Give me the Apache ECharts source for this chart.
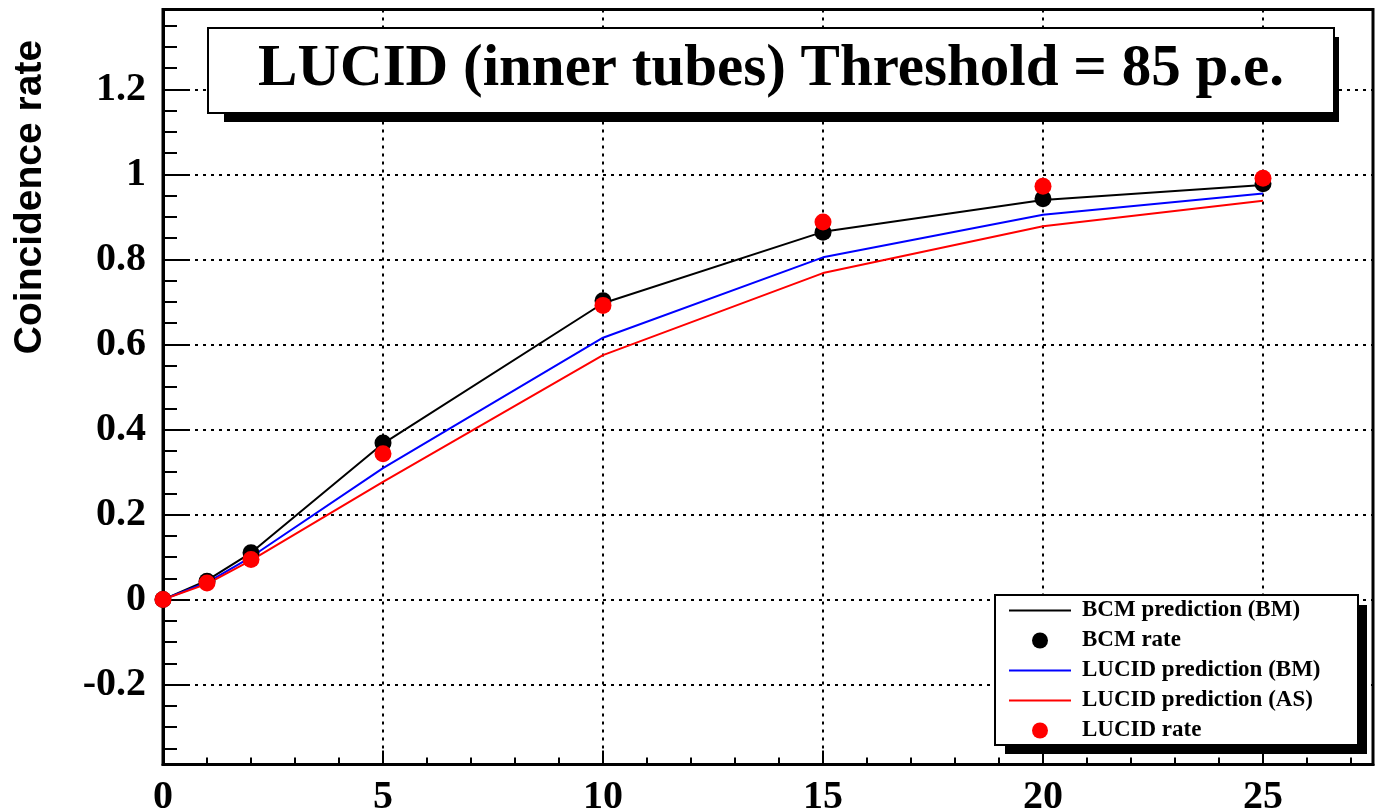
<!DOCTYPE html>
<html>
<head>
<meta charset="utf-8">
<script src="https://cdn.jsdelivr.net/npm/echarts@6/dist/echarts.min.js"></script>
<style>
html,body{margin:0;padding:0;background:#fff;}
#chart{width:1376px;height:812px;}
</style>
</head>
<body>
<div id="chart"></div>
<script>
// ---- data ----
const xValues = [0, 1, 2, 5, 10, 15, 20, 25];
const bcmPredictionBM = [0, 0.045, 0.11, 0.367, 0.697, 0.865, 0.94, 0.975];
const bcmRate = [0, 0.043, 0.11, 0.368, 0.703, 0.864, 0.943, 0.978];
const lucidPredictionBM = [0, 0.04, 0.10, 0.309, 0.616, 0.805, 0.905, 0.955];
const lucidPredictionAS = [0, 0.037, 0.092, 0.277, 0.575, 0.768, 0.878, 0.938];
const lucidRate = [0, 0.039, 0.094, 0.343, 0.692, 0.888, 0.972, 0.991];

const xMajorTicks = [0, 5, 10, 15, 20, 25];
const xMinorTicks = [1,2,3,4,6,7,8,9,11,12,13,14,16,17,18,19,21,22,23,24,26,27];
const yMajorTicks = [-0.2, 0, 0.2, 0.4, 0.6, 0.8, 1, 1.2];
const yMinorTicks = [-0.35,-0.3,-0.25,-0.15,-0.1,-0.05,0.05,0.1,0.15,0.25,0.3,0.35,0.45,0.5,0.55,0.65,0.7,0.75,0.85,0.9,0.95,1.05,1.1,1.15,1.25,1.3,1.35];

const titleText = 'LUCID (inner tubes) Threshold = 85 p.e.';
const yTitle = 'Coincidence rate';
const names = ['BCM prediction (BM)', 'BCM rate', 'LUCID prediction (BM)', 'LUCID prediction (AS)', 'LUCID rate'];

const pairs = arr => xValues.map((x, i) => [x, arr[i]]);

const chart = echarts.init(document.getElementById('chart'), null, {renderer: 'canvas'});

const serif = '"Liberation Serif", "Times New Roman", serif';
const dotted = {color: '#000', width: 2, type: [3, 5]};
const lineIcon = 'path://M0,0H62V2H0Z';

const X_MIN = 0, X_MAX = 27.5, Y_MIN = -0.388, Y_MAX = 1.388;

const option = {
  backgroundColor: '#fff',
  animation: false,
  grid: {
    left: 163, top: 9.5, width: 1210, height: 755,
    outerBoundsMode: 'none', containLabel: false,
    show: true, borderColor: '#000', borderWidth: 3, backgroundColor: 'transparent'
  },
  xAxis: [
    {
      type: 'value', min: X_MIN, max: X_MAX, position: 'bottom',
      axisLine: {show: true, onZero: false, lineStyle: {color: '#000', width: 3}},
      axisTick: {show: true, inside: true, length: 14, lineStyle: {color: '#000', width: 2}, customValues: xMajorTicks},
      axisLabel: {show: true, customValues: xMajorTicks, margin: 13, color: '#000',
        fontFamily: serif, fontWeight: 'bold', fontSize: 40,
        formatter: v => String(Math.round(v))},
      splitLine: {show: true, lineStyle: dotted}
    },
    {
      type: 'value', min: X_MIN, max: X_MAX, position: 'bottom', offset: 0,
      axisLine: {show: false, onZero: false},
      axisTick: {show: true, inside: true, length: 7, lineStyle: {color: '#000', width: 2}, customValues: xMinorTicks},
      axisLabel: {show: false},
      splitLine: {show: false}
    }
  ],
  yAxis: [
    {
      type: 'value', min: Y_MIN, max: Y_MAX, position: 'left',
      axisLine: {show: true, onZero: false, lineStyle: {color: '#000', width: 3}},
      axisTick: {show: true, inside: true, length: 25, lineStyle: {color: '#000', width: 2}, customValues: yMajorTicks},
      axisLabel: {show: true, customValues: yMajorTicks, margin: 17, color: '#000',
        fontFamily: serif, fontWeight: 'bold', fontSize: 40,
        formatter: v => String(Math.round(v * 10) / 10)},
      splitLine: {show: true, lineStyle: dotted}
    },
    {
      type: 'value', min: Y_MIN, max: Y_MAX, position: 'left', offset: 0,
      axisLine: {show: false, onZero: false},
      axisTick: {show: true, inside: true, length: 14, lineStyle: {color: '#000', width: 2}, customValues: yMinorTicks},
      axisLabel: {show: false},
      splitLine: {show: false}
    }
  ],
  legend: {
    orient: 'vertical', left: 1009, top: 599,
    itemWidth: 62, itemHeight: 16, itemGap: 7,
    padding: 0,
    data: [
      {name: names[0], icon: lineIcon},
      {name: names[1], icon: 'circle'},
      {name: names[2], icon: lineIcon},
      {name: names[3], icon: lineIcon},
      {name: names[4], icon: 'circle'}
    ],
    textStyle: {fontFamily: serif, fontWeight: 'bold', fontSize: 23, color: '#000', padding: [0, 0, 0, 6]},
    z: 10
  },
  graphic: [
    // legend box shadow + box
    {type: 'rect', z: 5, shape: {x: 1005, y: 605, width: 362, height: 149}, style: {fill: '#000'}, silent: true},
    {type: 'rect', z: 6, shape: {x: 995, y: 595, width: 363, height: 150}, style: {fill: '#fff', stroke: '#000', lineWidth: 2}, silent: true},
    // title box shadow + box
    {type: 'rect', z: 5, shape: {x: 224, y: 37, width: 1115, height: 85}, style: {fill: '#000'}, silent: true},
    {type: 'rect', z: 6, shape: {x: 208, y: 28, width: 1126, height: 85}, style: {fill: '#fff', stroke: '#000', lineWidth: 2}, silent: true},
    {type: 'text', z: 7, x: 771, y: 70, silent: true,
      style: {text: titleText, fill: '#000', font: 'bold 59px ' + serif, align: 'center', verticalAlign: 'middle'}},
    // y axis title
    {type: 'text', z: 7, x: 30, y: 197, rotation: Math.PI / 2, silent: true,
      style: {text: yTitle, fill: '#000', font: 'bold 39px "Liberation Sans", Arial, sans-serif', align: 'center', verticalAlign: 'middle'}}
  ],
  series: [
    {name: names[0], type: 'line', data: pairs(bcmPredictionBM), symbol: 'none', lineStyle: {color: '#000', width: 2}, itemStyle: {color: '#000'}, z: 2, clip: false},
    {name: names[2], type: 'line', data: pairs(lucidPredictionBM), symbol: 'none', lineStyle: {color: '#0000ff', width: 2}, itemStyle: {color: '#0000ff'}, z: 2, clip: false},
    {name: names[3], type: 'line', data: pairs(lucidPredictionAS), symbol: 'none', lineStyle: {color: '#ff0000', width: 2}, itemStyle: {color: '#ff0000'}, z: 2, clip: false},
    {name: names[1], type: 'scatter', data: pairs(bcmRate), symbol: 'circle', symbolSize: 17, itemStyle: {color: '#000', opacity: 1}, z: 3, clip: false},
    {name: names[4], type: 'scatter', data: pairs(lucidRate), symbol: 'circle', symbolSize: 17, itemStyle: {color: '#ff0000', opacity: 1}, z: 4, clip: false}
  ]
};
chart.setOption(option);
</script>
</body>
</html>
